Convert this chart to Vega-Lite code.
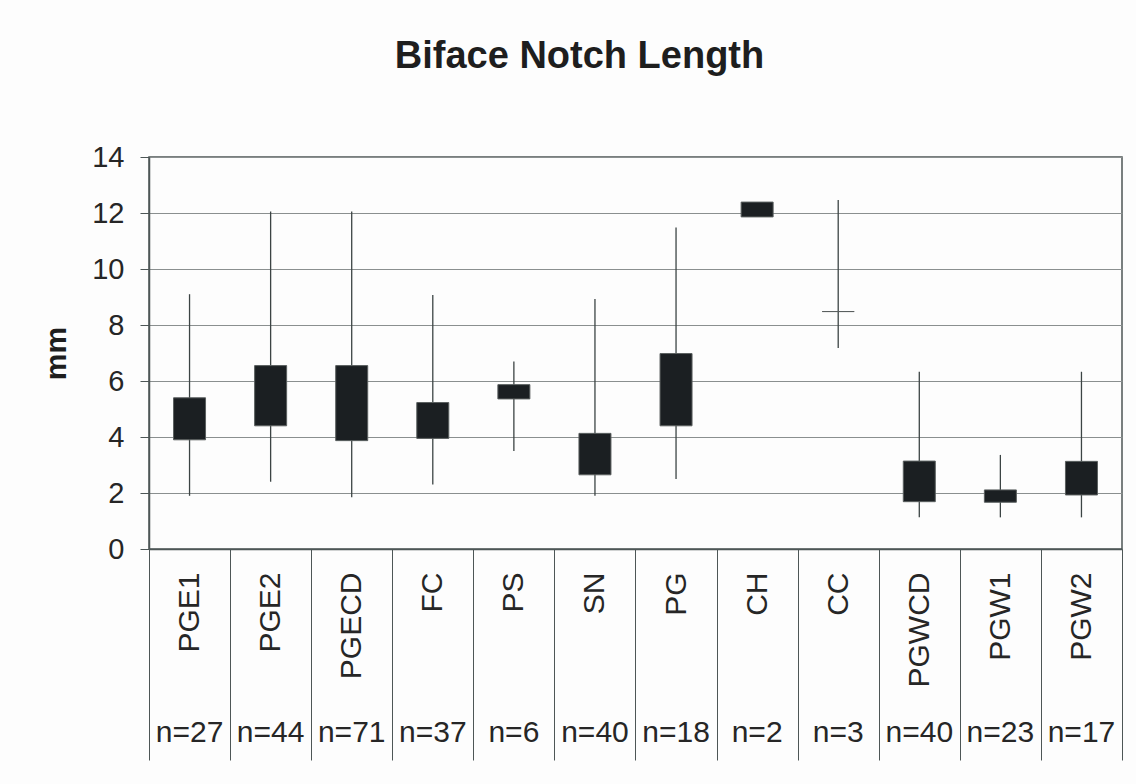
{
  "$schema": "https://vega.github.io/schema/vega-lite/v6.json",
  "width": 973,
  "height": 392,
  "autosize": {"type": "none"},
  "padding": {"left": 149, "top": 157, "right": 14, "bottom": 235},
  "background": "#fdfdfd",
  "title": {
    "text": "Biface Notch Length",
    "font": "Liberation Sans",
    "fontSize": 38,
    "fontWeight": "bold",
    "color": "#1e1e1e",
    "anchor": "middle",
    "frame": "group",
    "baseline": "alphabetic",
    "dx": -56,
    "offset": 37
  },
  "config": {
    "font": "Liberation Sans",
    "view": {"stroke": "#4d5656", "strokeWidth": 1.5}
  },
  "data": {
    "values": [
      {"group": "PGE1", "n": 27, "low": 1.9, "q1": 3.9, "q3": 5.4, "high": 9.1},
      {"group": "PGE2", "n": 44, "low": 2.4, "q1": 4.4, "q3": 6.55, "high": 12.05},
      {"group": "PGECD", "n": 71, "low": 1.85, "q1": 3.87, "q3": 6.55, "high": 12.05},
      {"group": "FC", "n": 37, "low": 2.3, "q1": 3.95, "q3": 5.23, "high": 9.07},
      {"group": "PS", "n": 6, "low": 3.5, "q1": 5.36, "q3": 5.87, "high": 6.7},
      {"group": "SN", "n": 40, "low": 1.9, "q1": 2.65, "q3": 4.13, "high": 8.93},
      {"group": "PG", "n": 18, "low": 2.5, "q1": 4.4, "q3": 6.98, "high": 11.48},
      {"group": "CH", "n": 2, "low": 11.86, "q1": 11.86, "q3": 12.39, "high": 12.39},
      {"group": "CC", "n": 3, "low": 7.18, "q1": 8.48, "q3": 8.48, "high": 12.46},
      {"group": "PGWCD", "n": 40, "low": 1.13, "q1": 1.69, "q3": 3.14, "high": 6.33},
      {"group": "PGW1", "n": 23, "low": 1.13, "q1": 1.67, "q3": 2.11, "high": 3.36},
      {"group": "PGW2", "n": 17, "low": 1.13, "q1": 1.93, "q3": 3.13, "high": 6.33}
    ]
  },
  "layer": [
    {
      "mark": {"type": "rule", "color": "#3c4444", "strokeWidth": 1.3},
      "encoding": {
        "x": {
          "field": "group",
          "type": "nominal",
          "sort": null,
          "scale": {"paddingInner": 0, "paddingOuter": 0},
          "axis": {
            "orient": "bottom",
            "title": null,
            "domainColor": "#4d5656",
            "domainWidth": 1.5,
            "tickColor": "#4d5656",
            "tickWidth": 1,
            "tickSize": 211,
            "tickBand": "extent",
            "labelAngle": -90,
            "labelAlign": "right",
            "labelBaseline": "middle",
            "labelPadding": -188,
            "labelFont": "Liberation Sans",
            "labelFontSize": 30,
            "labelColor": "#262626",
            "grid": false
          }
        },
        "y": {
          "field": "low",
          "type": "quantitative",
          "scale": {"domain": [0, 14]},
          "axis": {
            "title": "mm",
            "titleFont": "Liberation Sans",
            "titleFontSize": 30,
            "titleFontWeight": "bold",
            "titleColor": "#1e1e1e",
            "titlePadding": 20,
            "values": [0, 2, 4, 6, 8, 10, 12, 14],
            "labelFont": "Liberation Sans",
            "labelFontSize": 29,
            "labelColor": "#262626",
            "labelPadding": 16,
            "tickSize": 9,
            "tickColor": "#4d5656",
            "domainColor": "#4d5656",
            "domainWidth": 1.5,
            "grid": true,
            "gridColor": "#8a8f8f",
            "gridWidth": 1
          }
        },
        "y2": {"field": "high"}
      }
    },
    {
      "mark": {"type": "bar", "width": 32, "fill": "#1b1f22", "stroke": "#5a5f5f", "strokeWidth": 1},
      "encoding": {
        "x": {
          "field": "group",
          "type": "nominal",
          "sort": null,
          "scale": {"paddingInner": 0, "paddingOuter": 0},
          "axis": {
            "orient": "bottom",
            "title": null,
            "domain": false,
            "ticks": false,
            "tickSize": 0,
            "labelAngle": 0,
            "labelAlign": "center",
            "labelBaseline": "alphabetic",
            "labelPadding": 192,
            "labelFont": "Liberation Sans",
            "labelFontSize": 30,
            "labelColor": "#262626",
            "labelExpr": "{'PGE1':'n=27','PGE2':'n=44','PGECD':'n=71','FC':'n=37','PS':'n=6','SN':'n=40','PG':'n=18','CH':'n=2','CC':'n=3','PGWCD':'n=40','PGW1':'n=23','PGW2':'n=17'}[datum.value]",
            "grid": false
          }
        },
        "y": {"field": "q1", "type": "quantitative"},
        "y2": {"field": "q3"}
      }
    }
  ],
  "resolve": {"scale": {"x": "independent"}}
}
